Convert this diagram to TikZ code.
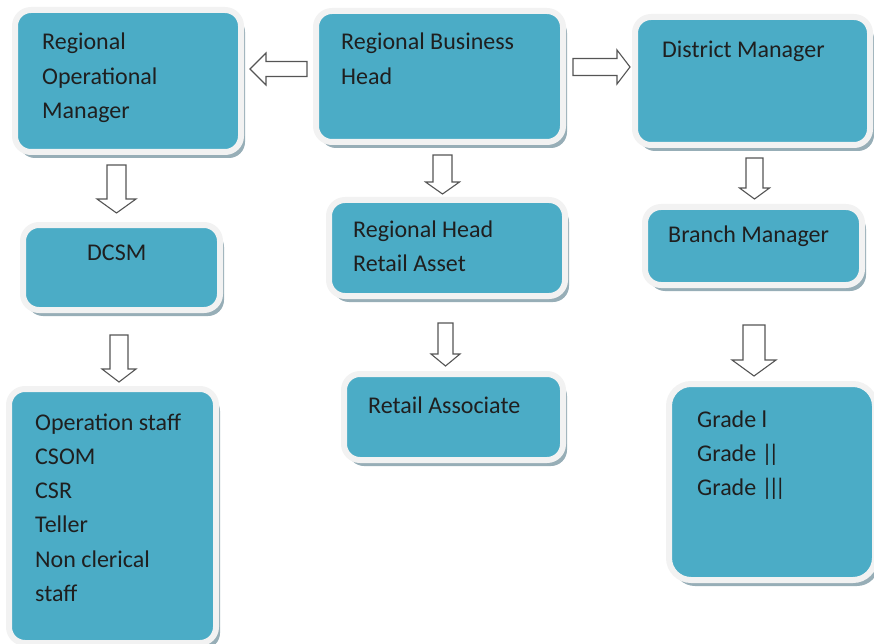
\documentclass[tikz,border=0pt]{standalone}
\usepackage{fontspec}
\setmainfont{Carlito}
\usetikzlibrary{calc,shadows}

\definecolor{boxteal}{RGB}{75,172,198}
\definecolor{boxrim}{RGB}{242,242,242}
\definecolor{boxshade}{RGB}{140,165,175}
\definecolor{arrowline}{RGB}{85,85,85}

% hollow block arrow: start, tip, half shaft, half head, head length
\newcommand{\blockarrow}[5]{%
  \coordinate (ba-s) at #1;
  \coordinate (ba-e) at #2;
  \coordinate (ba-b) at ($(ba-e)!#5!(ba-s)$);
  \draw[barrow] ($(ba-s)!#3!90:(ba-e)$) -- ($(ba-b)!#3!-90:(ba-s)$)
    -- ($(ba-b)!#4!-90:(ba-s)$) -- (ba-e) -- ($(ba-b)!#4!90:(ba-s)$)
    -- ($(ba-b)!#3!90:(ba-s)$) -- ($(ba-s)!#3!-90:(ba-e)$) -- cycle;
}
% tight vertical bars
\newcommand{\bars}[1]{\foreach \i in {1,...,#1}{\ifnum\i>1\kern-4.5pt\fi|}}

\begin{document}
\begin{tikzpicture}[x=1pt, y=-1pt,
    stage/.style={rectangle, rounded corners=16pt, fill=boxteal, draw=boxrim,
      line width=6pt, inner sep=0pt,
      drop shadow={shadow xshift=4pt, shadow yshift=-6pt, fill=boxshade, opacity=.9}},
    lbl/.style={anchor=base west, align=left, inner sep=0pt, text=black!88,
      font=\fontsize{24}{34.3}\selectfont},
    barrow/.style={draw=arrowline, fill=white, line width=1.1pt, line join=miter}]
  \useasboundingbox (0,0) rectangle (874,644);

  % boxes
  \node[stage, minimum width=226pt, minimum height=142pt] (rom) at (128, 81) {};
  \node[stage, minimum width=247pt, minimum height=131pt] (rbh) at (439.5, 76.5) {};
  \node[stage, minimum width=235pt, minimum height=128pt] (dm) at (752.5, 81) {};
  \node[stage, minimum width=197pt, minimum height=85pt] (dcsm) at (121.5, 267.5) {};
  \node[stage, minimum width=236pt, minimum height=96pt] (rhra) at (447, 248) {};
  \node[stage, minimum width=217pt, minimum height=78pt] (bm) at (753.5, 246) {};
  \node[stage, minimum width=207pt, minimum height=254pt] (ops) at (112.5, 516) {};
  \node[stage, minimum width=219pt, minimum height=86pt] (ra) at (453.5, 417) {};
  \node[stage, rounded corners=22pt, minimum width=206pt, minimum height=196pt] (grd) at (772, 482) {};

  % labels (base = last line)
  \node[lbl] (rom-t) at (42, 118.6) {Regional\\Operational\\Manager};
  \node[lbl] (rbh-t) at (341, 84.3) {Regional Business\\Head};
  \node[lbl] (dm-t) at (662, 58) {District Manager};
  \node[lbl] (dcsm-t) at (87, 260) {DCSM};
  \node[lbl] (rhra-t) at (353, 271.3) {Regional Head\\Retail Asset};
  \node[lbl] (bm-t) at (668, 242) {Branch Manager};
  \node[lbl] (ops-t) at (35, 601.5) {Operation staff\\CSOM\\CSR\\Teller\\Non clerical\\staff};
  \node[lbl] (ra-t) at (368, 413) {Retail Associate};
  \node[lbl] (grd-t) at (697, 495.6) {Grade l\\Grade \bars{2}\\Grade \bars{3}};

  % arrows
  \blockarrow{($(rbh.west)+(-6,-7.5)$)}{($(rom.east)+(6,-12)$)}{7.5pt}{16pt}{16pt}
  \blockarrow{($(rbh.east)+(7,-9.5)$)}{($(dm.west)+(-2,-14)$)}{8.5pt}{17pt}{13pt}
  \blockarrow{($(rom.south)+(-11.5,10)$)}{($(dcsm.north)+(-5,-9)$)}{9.5pt}{19.5pt}{14pt}
  \blockarrow{($(dcsm.south)+(-2.5,22)$)}{($(ops.north)+(6.5,-4)$)}{9pt}{17pt}{13pt}
  \blockarrow{($(rbh.south)+(3,10)$)}{($(rhra.north)+(-4.5,-3)$)}{9.5pt}{17pt}{12pt}
  \blockarrow{($(rhra.south)+(-1.5,24)$)}{($(ra.north)+(-8,-5)$)}{7.5pt}{14.5pt}{12pt}
  \blockarrow{($(dm.south)+(2,10)$)}{($(bm.north)+(1,-5)$)}{8.5pt}{15pt}{11pt}
  \blockarrow{($(bm.south)+(0.5,37)$)}{($(grd.north)+(-18,-5)$)}{11pt}{22pt}{16pt}
\end{tikzpicture}
\end{document}
